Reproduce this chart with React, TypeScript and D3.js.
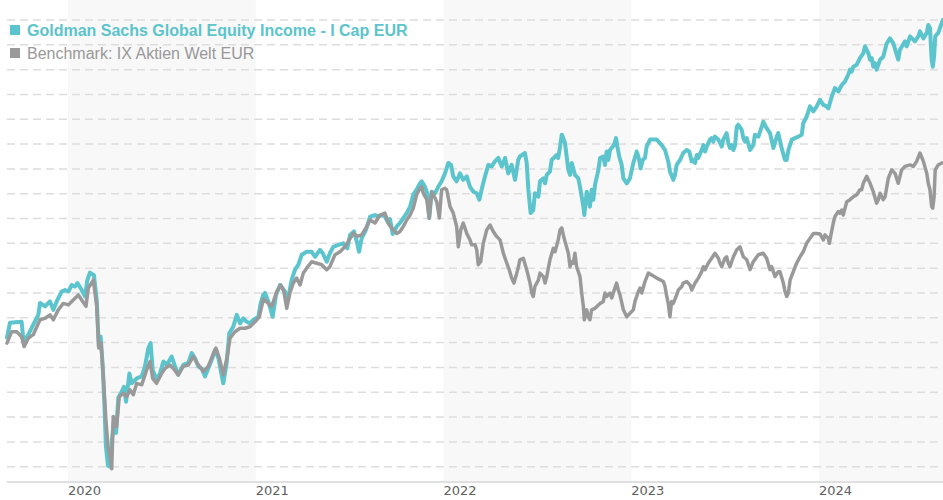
import React from 'react';
import * as d3 from 'd3';

const W = 943;
const H = 500;

const yearTicks = [2020, 2021, 2022, 2023, 2024];
const shadedYears = [2020, 2022, 2024];
const fundName = 'Goldman Sachs Global Equity Income - I Cap EUR';
const benchName = 'Benchmark: IX Aktien Welt EUR';

// [decimal year, indexed value]
const fundSeries: [number, number][] = [
  [2019.675,101.0],[2019.691,104.0],[2019.753,104.2],[2019.763,100.2],[2019.789,101.6],[2019.815,103.6],[2019.842,105.6],[2019.851,108.0],[2019.878,107.3],[2019.904,108.3],[2019.922,106.6],[2019.940,108.3],[2019.966,110.3],[2019.984,110.6],[2020.002,110.3],[2020.020,111.6],[2020.037,111.3],[2020.050,112.0],[2020.073,110.6],[2020.091,109.3],[2020.103,112.6],[2020.117,114.1],[2020.138,113.6],[2020.153,108.6],[2020.164,99.2],[2020.174,101.2],[2020.185,95.2],[2020.195,86.4],[2020.202,79.1],[2020.213,75.2],[2020.224,75.0],[2020.234,80.4],[2020.245,84.4],[2020.256,81.8],[2020.268,88.9],[2020.286,90.1],[2020.298,91.1],[2020.309,88.1],[2020.327,93.8],[2020.339,91.8],[2020.366,92.8],[2020.393,93.2],[2020.410,95.2],[2020.428,98.9],[2020.440,99.9],[2020.451,94.5],[2020.472,92.5],[2020.490,93.8],[2020.508,96.2],[2020.526,95.5],[2020.552,97.2],[2020.570,95.2],[2020.587,93.5],[2020.614,95.5],[2020.641,95.9],[2020.659,97.9],[2020.676,96.9],[2020.694,95.2],[2020.712,94.8],[2020.730,93.2],[2020.747,94.8],[2020.765,96.5],[2020.783,98.5],[2020.801,96.9],[2020.813,94.5],[2020.827,91.8],[2020.845,95.9],[2020.859,101.9],[2020.880,103.2],[2020.899,105.6],[2020.916,103.9],[2020.934,104.9],[2020.952,104.2],[2020.969,103.9],[2020.987,104.6],[2021.014,105.2],[2021.026,107.9],[2021.040,109.6],[2021.049,110.0],[2021.067,108.3],[2021.090,105.2],[2021.108,109.6],[2021.129,111.6],[2021.150,110.6],[2021.173,109.0],[2021.191,112.6],[2021.209,114.7],[2021.227,115.7],[2021.245,117.7],[2021.271,118.3],[2021.298,118.3],[2021.316,117.3],[2021.342,118.7],[2021.357,118.0],[2021.378,116.3],[2021.395,118.0],[2021.413,119.3],[2021.440,119.7],[2021.466,120.0],[2021.488,119.0],[2021.502,121.7],[2021.523,122.4],[2021.538,120.4],[2021.550,118.3],[2021.564,121.0],[2021.587,122.7],[2021.609,125.4],[2021.635,125.7],[2021.653,125.4],[2021.671,125.7],[2021.688,125.4],[2021.706,124.1],[2021.715,124.9],[2021.729,121.9],[2021.751,123.4],[2021.768,124.1],[2021.786,125.1],[2021.804,126.1],[2021.822,127.4],[2021.839,129.8],[2021.857,130.8],[2021.875,132.1],[2021.884,132.5],[2021.901,131.4],[2021.911,130.4],[2021.924,125.1],[2021.937,130.4],[2021.955,130.1],[2021.972,131.4],[2021.990,132.5],[2022.008,134.1],[2022.026,136.2],[2022.040,135.8],[2022.052,133.5],[2022.070,132.5],[2022.088,134.1],[2022.105,132.8],[2022.124,133.5],[2022.141,131.4],[2022.159,130.4],[2022.177,130.1],[2022.191,128.8],[2022.203,130.8],[2022.221,133.5],[2022.239,135.8],[2022.257,135.5],[2022.274,136.5],[2022.292,137.2],[2022.310,135.5],[2022.328,137.2],[2022.345,134.1],[2022.363,135.8],[2022.381,132.8],[2022.398,136.8],[2022.407,137.5],[2022.434,138.2],[2022.443,136.2],[2022.452,130.8],[2022.464,126.1],[2022.478,126.7],[2022.487,130.1],[2022.505,129.4],[2022.514,132.5],[2022.532,133.1],[2022.541,132.1],[2022.550,133.8],[2022.567,134.5],[2022.576,136.8],[2022.603,137.8],[2022.611,137.2],[2022.621,139.5],[2022.630,141.9],[2022.638,141.2],[2022.647,140.2],[2022.656,137.5],[2022.665,134.8],[2022.674,133.8],[2022.683,136.2],[2022.700,133.8],[2022.718,133.1],[2022.727,131.4],[2022.745,127.4],[2022.750,125.7],[2022.763,130.4],[2022.780,127.4],[2022.789,130.8],[2022.798,128.8],[2022.807,131.8],[2022.825,134.8],[2022.834,137.2],[2022.851,137.5],[2022.860,135.8],[2022.869,138.5],[2022.878,136.8],[2022.887,138.8],[2022.908,139.8],[2022.919,141.2],[2022.926,139.5],[2022.936,137.5],[2022.949,135.8],[2022.958,133.1],[2022.976,132.1],[2022.993,133.1],[2023.011,136.2],[2023.029,138.5],[2023.038,137.5],[2023.050,135.1],[2023.061,136.8],[2023.073,137.2],[2023.082,139.5],[2023.100,140.9],[2023.136,140.9],[2023.162,139.8],[2023.180,138.8],[2023.197,136.5],[2023.206,134.5],[2023.224,132.8],[2023.233,133.8],[2023.242,135.8],[2023.260,136.8],[2023.277,138.2],[2023.295,138.8],[2023.309,138.5],[2023.322,136.5],[2023.330,136.8],[2023.340,136.2],[2023.349,137.8],[2023.357,137.2],[2023.375,138.8],[2023.384,139.8],[2023.393,138.5],[2023.402,139.5],[2023.419,140.9],[2023.428,141.2],[2023.437,140.5],[2023.446,141.5],[2023.464,140.9],[2023.482,139.5],[2023.490,140.9],[2023.508,142.2],[2023.517,140.2],[2023.526,139.2],[2023.535,139.8],[2023.544,138.8],[2023.553,139.8],[2023.562,143.5],[2023.570,143.9],[2023.588,142.9],[2023.597,141.2],[2023.606,140.5],[2023.615,141.2],[2023.633,138.8],[2023.650,139.8],[2023.659,141.9],[2023.677,141.5],[2023.695,143.5],[2023.703,144.5],[2023.721,143.2],[2023.739,142.2],[2023.757,139.2],[2023.775,141.5],[2023.783,142.2],[2023.801,139.2],[2023.819,136.8],[2023.828,136.8],[2023.837,138.8],[2023.855,140.9],[2023.872,141.2],[2023.890,141.5],[2023.908,141.9],[2023.916,144.2],[2023.934,145.5],[2023.952,147.6],[2023.970,146.6],[2023.988,147.6],[2024.005,148.9],[2024.023,147.9],[2024.041,147.6],[2024.050,147.2],[2024.068,149.6],[2024.085,151.3],[2024.103,150.6],[2024.121,151.9],[2024.138,152.6],[2024.156,154.0],[2024.165,155.0],[2024.174,154.6],[2024.183,155.6],[2024.201,156.0],[2024.218,157.3],[2024.236,158.3],[2024.245,159.7],[2024.263,158.3],[2024.272,157.0],[2024.281,157.3],[2024.289,155.6],[2024.298,156.3],[2024.307,155.0],[2024.325,157.0],[2024.342,157.6],[2024.361,160.3],[2024.378,161.3],[2024.396,160.3],[2024.414,158.0],[2024.422,157.0],[2024.431,159.0],[2024.458,160.7],[2024.467,159.7],[2024.485,161.7],[2024.511,160.7],[2024.529,161.7],[2024.538,162.7],[2024.556,161.3],[2024.574,162.4],[2024.582,164.0],[2024.591,163.4],[2024.600,157.0],[2024.606,155.6],[2024.613,157.6],[2024.619,161.7],[2024.635,162.4],[2024.654,164.4],[2024.660,165.0]
];

const benchSeries: [number, number][] = [
  [2019.675,99.9],[2019.700,102.2],[2019.727,102.2],[2019.753,101.2],[2019.766,99.2],[2019.789,100.9],[2019.815,101.6],[2019.851,104.6],[2019.878,104.9],[2019.904,105.6],[2019.922,104.6],[2019.948,106.6],[2019.975,107.9],[2020.002,107.6],[2020.028,108.6],[2020.055,109.6],[2020.073,108.6],[2020.096,107.3],[2020.108,111.0],[2020.135,112.6],[2020.153,107.3],[2020.164,98.9],[2020.176,99.9],[2020.188,93.2],[2020.202,84.4],[2020.213,79.1],[2020.224,77.0],[2020.233,74.6],[2020.241,85.1],[2020.259,83.1],[2020.273,89.1],[2020.295,89.8],[2020.313,89.1],[2020.330,90.5],[2020.348,89.5],[2020.366,91.8],[2020.393,91.5],[2020.419,94.5],[2020.437,96.2],[2020.451,92.8],[2020.472,91.8],[2020.499,93.8],[2020.517,94.8],[2020.543,95.5],[2020.561,94.8],[2020.587,93.5],[2020.614,95.2],[2020.641,95.5],[2020.667,97.2],[2020.694,95.5],[2020.721,94.2],[2020.747,95.2],[2020.771,97.5],[2020.788,98.9],[2020.806,96.9],[2020.827,93.5],[2020.848,97.2],[2020.863,100.9],[2020.889,102.2],[2020.916,102.9],[2020.943,102.9],[2020.969,103.2],[2020.996,104.2],[2021.019,105.2],[2021.041,108.8],[2021.067,107.9],[2021.085,107.3],[2021.112,110.3],[2021.133,111.6],[2021.150,110.3],[2021.165,106.9],[2021.182,110.0],[2021.200,112.0],[2021.218,113.0],[2021.236,111.6],[2021.253,114.0],[2021.271,115.0],[2021.298,116.3],[2021.325,116.0],[2021.351,115.7],[2021.378,114.7],[2021.395,115.3],[2021.422,117.7],[2021.449,118.3],[2021.475,119.3],[2021.498,120.7],[2021.520,122.0],[2021.541,121.4],[2021.564,121.7],[2021.587,123.1],[2021.609,124.7],[2021.635,124.1],[2021.662,125.7],[2021.688,126.1],[2021.711,123.7],[2021.733,122.7],[2021.751,122.0],[2021.768,122.4],[2021.786,123.4],[2021.804,124.7],[2021.822,125.7],[2021.839,127.1],[2021.857,129.8],[2021.875,131.1],[2021.884,131.4],[2021.892,130.1],[2021.911,128.8],[2021.924,125.1],[2021.937,130.4],[2021.955,129.1],[2021.964,128.4],[2021.978,125.1],[2021.990,130.8],[2022.008,131.1],[2022.017,130.8],[2022.035,127.4],[2022.052,126.1],[2022.070,123.4],[2022.079,119.3],[2022.092,122.7],[2022.105,124.1],[2022.124,122.0],[2022.141,120.7],[2022.150,119.7],[2022.168,119.7],[2022.177,118.7],[2022.185,115.7],[2022.198,116.3],[2022.212,120.0],[2022.230,122.7],[2022.248,123.7],[2022.265,122.4],[2022.283,121.4],[2022.301,120.7],[2022.319,118.0],[2022.337,116.0],[2022.350,114.7],[2022.363,113.0],[2022.375,112.0],[2022.386,113.4],[2022.398,115.1],[2022.407,116.7],[2022.425,117.0],[2022.443,114.7],[2022.461,112.0],[2022.470,110.0],[2022.478,109.3],[2022.487,111.3],[2022.505,112.6],[2022.514,114.0],[2022.532,113.3],[2022.541,112.0],[2022.550,113.3],[2022.567,116.7],[2022.585,119.0],[2022.594,118.3],[2022.611,120.7],[2022.621,122.7],[2022.630,123.1],[2022.638,121.7],[2022.647,120.4],[2022.665,118.0],[2022.674,115.3],[2022.683,116.3],[2022.691,116.0],[2022.700,118.0],[2022.709,115.3],[2022.727,113.3],[2022.736,110.0],[2022.745,107.3],[2022.750,104.6],[2022.763,106.6],[2022.771,105.2],[2022.780,104.6],[2022.789,106.6],[2022.807,106.9],[2022.834,107.9],[2022.851,108.3],[2022.860,110.0],[2022.869,109.3],[2022.887,110.0],[2022.896,109.0],[2022.913,111.0],[2022.922,112.0],[2022.931,110.6],[2022.940,109.6],[2022.958,106.6],[2022.976,105.2],[2022.993,105.9],[2023.011,106.6],[2023.020,108.3],[2023.038,110.3],[2023.047,111.0],[2023.056,110.0],[2023.073,112.3],[2023.091,114.0],[2023.109,113.6],[2023.136,113.0],[2023.171,112.3],[2023.180,111.3],[2023.189,109.3],[2023.197,107.9],[2023.206,105.2],[2023.215,108.3],[2023.224,107.9],[2023.242,109.6],[2023.251,110.6],[2023.269,111.3],[2023.277,112.0],[2023.295,112.3],[2023.313,111.6],[2023.322,110.6],[2023.340,112.0],[2023.357,113.0],[2023.375,114.3],[2023.384,115.3],[2023.393,114.7],[2023.410,116.0],[2023.428,117.0],[2023.446,118.0],[2023.464,117.0],[2023.473,116.0],[2023.482,115.3],[2023.499,117.0],[2023.508,117.3],[2023.517,116.0],[2023.526,115.3],[2023.544,117.3],[2023.562,118.7],[2023.579,119.3],[2023.597,117.3],[2023.615,116.7],[2023.633,114.7],[2023.650,116.3],[2023.677,117.7],[2023.703,118.0],[2023.721,117.0],[2023.739,114.7],[2023.748,115.3],[2023.766,113.3],[2023.783,114.3],[2023.792,114.3],[2023.810,112.0],[2023.819,110.3],[2023.828,109.3],[2023.837,110.0],[2023.846,112.6],[2023.863,114.3],[2023.881,116.0],[2023.899,117.3],[2023.916,118.3],[2023.934,120.0],[2023.952,121.0],[2023.970,122.0],[2023.988,122.0],[2024.005,121.9],[2024.023,120.7],[2024.032,121.7],[2024.050,121.0],[2024.055,120.0],[2024.062,121.4],[2024.076,124.1],[2024.085,125.4],[2024.103,126.4],[2024.112,126.1],[2024.121,126.7],[2024.129,125.7],[2024.148,128.4],[2024.165,128.8],[2024.183,129.4],[2024.201,129.8],[2024.218,130.8],[2024.227,130.8],[2024.236,132.1],[2024.254,133.5],[2024.272,132.1],[2024.289,130.4],[2024.307,128.1],[2024.316,128.8],[2024.325,130.1],[2024.342,128.8],[2024.352,129.4],[2024.369,133.1],[2024.387,134.8],[2024.405,134.1],[2024.422,132.1],[2024.440,134.8],[2024.458,135.5],[2024.485,135.8],[2024.502,135.5],[2024.520,136.5],[2024.538,138.2],[2024.556,136.5],[2024.574,134.1],[2024.582,132.1],[2024.591,130.8],[2024.600,127.4],[2024.606,127.1],[2024.613,129.4],[2024.619,134.8],[2024.635,135.8],[2024.654,136.2],[2024.660,136.2]
];

const fundColor = '#5bc4cc';
const benchColor = '#999999';

export default function App() {
  const left = 7;
  const right = W;
  const axisY = 482;

  const x = d3.scaleLinear().domain([2020, 2024]).range([68, 819]);
  const y = d3.scaleLinear().domain([75, 165]).range([466.7, 20]);
  const line = d3
    .line<[number, number]>()
    .x((d) => x(d[0]))
    .y((d) => y(d[1]));
  const grid = y.ticks(18);

  return (
    <svg
      width={W}
      height={H}
      viewBox={`0 0 ${W} ${H}`}
      style={{ position: 'absolute', left: 0, top: 0, display: 'block' }}
    >
      <rect x={0} y={0} width={W} height={H} fill="#ffffff" />
      {shadedYears.map((yr) => (
        <rect
          key={yr}
          x={x(yr)}
          y={0}
          width={Math.min(x(yr + 1), right) - x(yr)}
          height={axisY}
          fill="#f8f8f8"
        />
      ))}
      {grid.map((v) => (
        <line
          key={v}
          x1={left}
          x2={right}
          y1={y(v)}
          y2={y(v)}
          stroke="#dddddd"
          strokeWidth={1.5}
          strokeDasharray="8,5"
        />
      ))}
      <line x1={left} x2={right} y1={axisY} y2={axisY} stroke="#e0e0e0" strokeWidth={2} />
      {yearTicks.map((yr) => (
        <text
          key={yr}
          x={x(yr)}
          y={495}
          fontFamily="DejaVu Sans, Verdana, sans-serif"
          fontSize={13}
          fill="#606060"
        >
          {yr}
        </text>
      ))}
      <path
        d={line(fundSeries) || ''}
        fill="none"
        stroke={fundColor}
        strokeWidth={4}
        strokeLinejoin="round"
        strokeLinecap="round"
      />
      <path
        d={line(benchSeries) || ''}
        fill="none"
        stroke={benchColor}
        strokeWidth={3.5}
        strokeLinejoin="round"
        strokeLinecap="round"
      />
      <g fontFamily="Liberation Sans, Arial, sans-serif" fontSize={16}>
        <rect x={10} y={25} width={10} height={10} fill={fundColor} />
        <text x={27} y={36} fill={fundColor} fontWeight="bold">
          {fundName}
        </text>
        <rect x={10} y={48} width={10} height={10} fill={benchColor} />
        <text x={27} y={58.5} fill={benchColor}>
          {benchName}
        </text>
      </g>
    </svg>
  );
}
